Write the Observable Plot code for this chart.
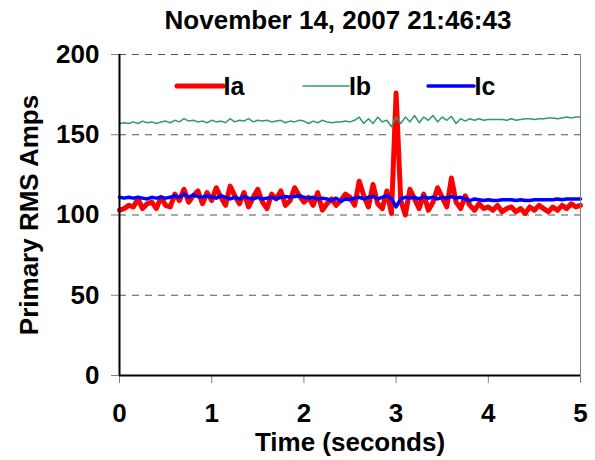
<!DOCTYPE html>
<html>
<head>
<meta charset="utf-8">
<script src="https://cdn.jsdelivr.net/npm/d3@7"></script>
<script src="https://cdn.jsdelivr.net/npm/@observablehq/plot@0.6"></script>
<style>
  html, body { margin: 0; padding: 0; background: white; }
  #chart { position: relative; width: 595px; height: 460px; }
</style>
</head>
<body>
<div id="chart"></div>
<script>
const title = "November 14, 2007 21:46:43";
const yLabel = "Primary RMS Amps";
const xLabel = "Time (seconds)";
const xTicks = [0, 1, 2, 3, 4, 5];
const yTicks = [0, 50, 100, 150, 200];
const gridValues = [50, 100, 150, 200];
const seriesNames = ["Ia", "Ib", "Ic"];
const seriesColors = ["#ff0000", "#339966", "#0000ff"];

// sample times (seconds), 0.05 s step
const time = [0,0.05,0.1,0.15,0.2,0.25,0.3,0.35,0.4,0.45,0.5,0.55,0.6,0.65,0.7,0.75,0.8,0.85,0.9,0.95,
1,1.05,1.1,1.15,1.2,1.25,1.3,1.35,1.4,1.45,1.5,1.55,1.6,1.65,1.7,1.75,1.8,1.85,1.9,1.95,
2,2.05,2.1,2.15,2.2,2.25,2.3,2.35,2.4,2.45,2.5,2.55,2.6,2.65,2.7,2.75,2.8,2.85,2.9,2.95,
3,3.05,3.1,3.15,3.2,3.25,3.3,3.35,3.4,3.45,3.5,3.55,3.6,3.65,3.7,3.75,3.8,3.85,3.9,3.95,
4,4.05,4.1,4.15,4.2,4.25,4.3,4.35,4.4,4.45,4.5,4.55,4.6,4.65,4.7,4.75,4.8,4.85,4.9,4.95,5];

const ia = [103,104,106,105,110,104,107,108,104,111,106,105,113,109,116,108,112,115,107,114,
109,117,111,106,118,112,107,114,105,111,116,108,104,113,110,115,106,109,117,112,
108,111,106,114,103,107,110,106,109,113,111,106,121,112,105,119,107,104,115,101,
176,109,100,116,110,104,113,103,108,117,111,105,123,108,104,112,106,103,107,104,
105,103,106,102,104,105,102,104,101,105,103,106,104,102,105,103,106,104,107,105,106];

const ib = [157,157.5,157,158,157,158.5,157.5,158,157,158,158.5,157.5,159,158,160,158.5,159,158,158.5,157.5,
159,158,158.5,157.5,160,158,159,158.5,160,158,159,158.5,159,158,158.5,159,157.5,158.5,158,159,
158.5,157,158.5,157.5,159,158,157.5,158,158,158.5,158,159,161,157,160,157,161,158,159,155,
161,157,161,158,162,157.5,161,159,162,158,161,159,161.5,157,160,158.5,160,159,160,159,
159.5,159.5,159.5,159.5,159,160,159,159.5,160,160,159.5,160,160,160.5,160.5,160,160.5,161,160.5,161,161];

const ic = [111,110.5,111,110.5,111,110.5,110,111,110.5,111,110.5,111,112,111,113,111,112.5,111.5,111,112,
111,110.5,112,111,110,111,110,111.5,110.5,110,111,110,110.5,111,110,111,111.5,111,111.5,112,
111,110.5,111,110,110.5,110,109,110.5,108.5,110,109.5,110.5,111,110,111,111.5,110,111,112,110,
105,110,111,110.5,111,110,111.5,110.5,111,110,111,110.5,111.5,110.5,111,110,109,110,109.5,109,
109.5,109,109,109.5,109.5,109.5,109,109.5,109,109,109.5,109.5,109.5,109.5,109.5,110,109.5,110,110,110,110];

const toRows = (vals) => time.map((t, i) => ({t, v: vals[i]}));
const rowsA = toRows(ia), rowsB = toRows(ib), rowsC = toRows(ic);

const font = "'Liberation Sans', Arial, sans-serif";

const chart = Plot.plot({
  width: 595,
  height: 460,
  marginLeft: 119,
  marginRight: 15,
  marginTop: 54,
  marginBottom: 85,
  style: {fontFamily: font, fontWeight: "bold", fontSize: "26px", color: "black", background: "white"},
  x: {domain: [0, 5]},
  y: {domain: [0, 200]},
  marks: [
    Plot.ruleY(gridValues, {stroke: "#555", strokeWidth: 1, strokeDasharray: "7,6"}),
    Plot.line(rowsA, {x: "t", y: "v", stroke: seriesColors[0], strokeWidth: 5, strokeLinejoin: "round"}),
    Plot.line(rowsB, {x: "t", y: "v", stroke: seriesColors[1], strokeWidth: 1.5}),
    Plot.line(rowsC, {x: "t", y: "v", stroke: seriesColors[2], strokeWidth: 3.5, strokeLinejoin: "round"}),
    Plot.axisY({ticks: yTicks, tickFormat: d => String(d), tickSize: 8, tickPadding: 12, stroke: "#808080", label: null, fontSize: 26, fontWeight: "bold"}),
    Plot.axisX({ticks: xTicks, tickFormat: d => String(d), tickSize: 8, tickPadding: 20, stroke: "#808080", label: null, fontSize: 26, fontWeight: "bold"}),
    Plot.ruleX([5], {stroke: "#808080", strokeWidth: 1}),
    Plot.ruleX([0], {stroke: "black", strokeWidth: 2}),
    Plot.ruleY([0], {stroke: "black", strokeWidth: 2}),
    Plot.text([yLabel], {text: d => d, frameAnchor: "left", textAnchor: "middle", rotate: -90, dx: -90, fontSize: 26, fontWeight: "bold"}),
    Plot.text([xLabel], {text: d => d, frameAnchor: "bottom", dy: 75, fontSize: 26, fontWeight: "bold"}),
    Plot.text([title], {text: d => d, frameAnchor: "top", dx: -12, dy: -44, fontSize: 26, fontWeight: "bold"})
  ]
});

document.getElementById("chart").appendChild(chart);

// Legend inside the plot area
const svg = d3.select(chart);
const legend = svg.append("g").attr("font-family", font).attr("font-weight", "bold").attr("font-size", 25);
const legendX = [177, 303, 428];
const legendW = [5, 1.5, 3.5];
seriesNames.forEach((name, i) => {
  const g = legend.append("g").attr("transform", `translate(${legendX[i]},86)`);
  g.append("line").attr("x1", 0).attr("x2", 46).attr("y1", 0).attr("y2", 0)
    .attr("stroke", seriesColors[i]).attr("stroke-width", legendW[i]).attr("stroke-linecap", "round");
  g.append("text").attr("x", 57).attr("y", 0).attr("dy", "0.36em").attr("fill", "black").text(name);
});
</script>
</body>
</html>
